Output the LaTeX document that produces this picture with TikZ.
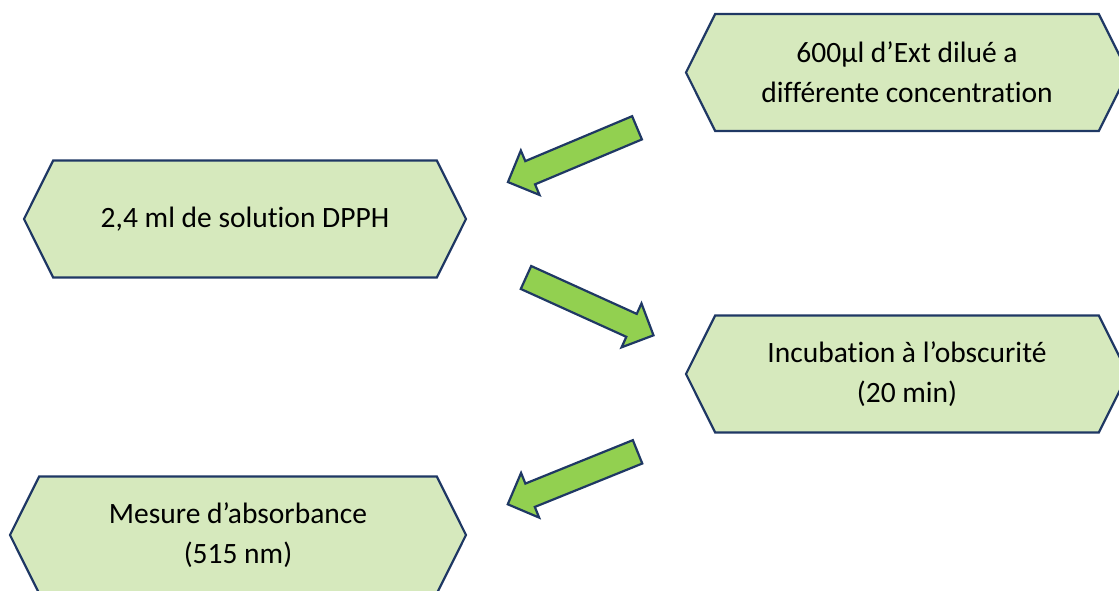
\documentclass[tikz,border=0pt]{standalone}
\usepackage{fontspec}
\setmainfont{Carlito}[Ligatures=NoCommon]
\usepackage{tikz}
\usetikzlibrary{shapes.symbols, shapes.arrows}
\definecolor{navy}{HTML}{1F3864}
\definecolor{boxgreen}{HTML}{D6E9BD}
\definecolor{arrowgreen}{HTML}{92D050}
\tikzstyle{etape} = [signal, signal to=west and east, signal pointer angle=127, minimum height=117pt, minimum width=442pt, inner sep=0pt, align=center, draw=navy, line width=2.2pt, fill=boxgreen, font=\fontsize{29.5}{40}\selectfont]
\tikzstyle{fleche} = [single arrow, minimum height=140pt, single arrow head extend=11.5pt, inner xsep=0pt, inner ysep=11.5pt, text height=0pt, text depth=0pt, draw=navy, line width=2.2pt, fill=arrowgreen]

\begin{document}
\begin{tikzpicture}[x=1pt, y=-1pt]
\useasboundingbox (0,0) rectangle (1119,591);

\node (ext) [etape] at (907,72.5) {600µl d’Ext dilué a\\différente concentration};
\node (dpph) [etape] at (245,219) {2,4 ml de solution DPPH};
\node (incub) [etape] at (907,374) {Incubation à l’obscurité\\(20 min)};
\node (mesure) [etape, minimum width=456pt] at (238,535) {Mesure d’absorbance\\(515 nm)};

\node (arrowA) [fleche, rotate=202.8] at (578.3,152.5) {};
\node (arrowB) [fleche, rotate=-24.4] at (584,303.8) {};
\node (arrowC) [fleche, rotate=202] at (578.5,475.7) {};
\end{tikzpicture}
\end{document}
